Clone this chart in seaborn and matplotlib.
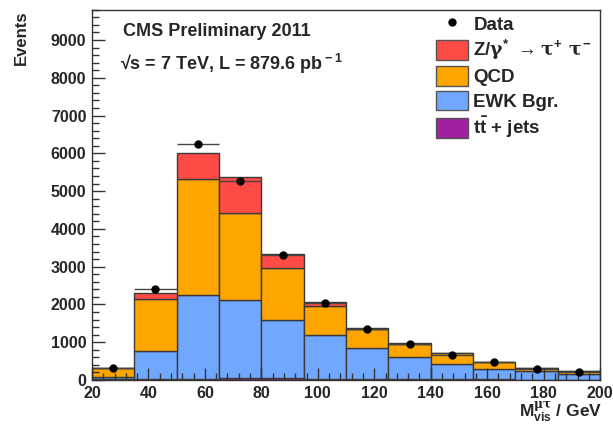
import numpy as np
import pandas as pd
import matplotlib
matplotlib.use("Agg")
import matplotlib.pyplot as plt
import seaborn as sns
from matplotlib.patches import Patch
from matplotlib.lines import Line2D
from matplotlib.ticker import MultipleLocator

# ---------------- data ----------------
bin_edges = [20, 35, 50, 65, 80, 95, 110, 125, 140, 155, 170, 185, 200]
ttbar = [15, 25, 35, 40, 40, 35, 30, 25, 20, 15, 10, 8]
ewk = [70, 745, 2215, 2080, 1560, 1155, 830, 575, 415, 270, 220, 142]
qcd = [220, 1380, 3070, 2300, 1370, 770, 490, 365, 275, 195, 80, 90]
ztt = [10, 140, 700, 950, 370, 95, 25, 10, 5, 5, 3, 2]
data = [330, 2420, 6260, 5280, 3310, 2050, 1340, 950, 665, 470, 300, 220]

labels = [r"Z/$\gamma^{*}$ $\rightarrow \tau^{+}\ \tau^{-}$", "QCD", "EWK Bgr.", r"t$\bar{\rm t}$ + jets"]
colors = ["#ff4b45", "#ffa500", "#70a8ff", "#a0209f"]

edges = [float(e) for e in bin_edges]
centers = np.array([0.5 * (a + b) for a, b in zip(edges[:-1], edges[1:])])

rows = []
for name, vals in zip(["Ztt", "QCD", "EWK", "ttbar"], [ztt, qcd, ewk, ttbar]):
    for c, v in zip(centers, vals):
        rows.append({"mass": float(c), "weight": float(v), "proc": name})
df = pd.DataFrame(rows)

# ---------------- style ----------------
sns.set_style("ticks")
plt.rcParams["font.family"] = ["Liberation Sans", "DejaVu Sans"]
plt.rcParams["font.weight"] = "bold"
plt.rcParams["mathtext.fontset"] = "custom"
plt.rcParams["mathtext.rm"] = "Liberation Sans:bold"
plt.rcParams["mathtext.bf"] = "Liberation Sans:bold"
plt.rcParams["mathtext.it"] = "DejaVu Serif"

fig = plt.figure(figsize=(6.13, 4.26), dpi=100)
ax = fig.add_axes([0.150, 0.108, 0.829, 0.869])

sns.histplot(data=df, x="mass", weights="weight", hue="proc",
             hue_order=["Ztt", "QCD", "EWK", "ttbar"],
             palette=dict(zip(["Ztt", "QCD", "EWK", "ttbar"], colors)),
             bins=edges, multiple="stack", element="bars", fill=True,
             alpha=1.0, edgecolor="#3a3a3a", linewidth=1.0,
             legend=False, ax=ax)

ax.errorbar(centers, data, xerr=7.5, yerr=np.sqrt(data), fmt="o", color="black",
            markersize=5, elinewidth=1.0, ecolor="#444444", capsize=0, zorder=5)

ax.set_xlim(20, 200)
ax.set_ylim(0, 9800)
ax.xaxis.set_major_locator(MultipleLocator(20))
ax.xaxis.set_minor_locator(MultipleLocator(4))
ax.yaxis.set_major_locator(MultipleLocator(1000))
ax.yaxis.set_minor_locator(MultipleLocator(200))
ax.tick_params(which="both", left=True, bottom=True, top=False, right=False)
ax.tick_params(which="major", direction="in", length=9, width=1, labelsize=11.5, pad=4,
               color="#333333")
ax.tick_params(which="minor", direction="in", length=5, width=1, color="#333333")
ax.tick_params(axis="x", which="major", pad=4)
for lab in ax.get_xticklabels() + ax.get_yticklabels():
    lab.set_fontweight("bold")
for s in ax.spines.values():
    s.set_linewidth(1.0)
    s.set_color("#333333")
ax.set_axisbelow(False)

ax.set_xlabel("")
ax.set_ylabel("")
fig.text(0.982, 0.002, r"M$_{\rm vis}^{\mu\tau}$ / GeV", ha="right", va="bottom",
         fontsize=12.5, fontweight="bold")
fig.text(0.022, 0.975, "Events", rotation=90, ha="left", va="top",
         fontsize=12, fontweight="bold")

ax.text(0.062, 0.965, "CMS Preliminary 2011", transform=ax.transAxes,
        fontsize=13, fontweight="bold", va="top", ha="left")
ax.text(0.055, 0.885, "\u221as = 7 TeV, L = 879.6 pb$^{\\rm -1}$", transform=ax.transAxes,
        fontsize=13, fontweight="bold", va="top", ha="left")

handles = [Line2D([], [], marker="o", color="black", linestyle="none", markersize=5)]
handles += [Patch(facecolor=c, edgecolor="#555555") for c in colors]
leg = ax.legend(handles, ["Data"] + labels, loc="upper right", bbox_to_anchor=(1.005, 1.02),
                frameon=False, fontsize=13.5, handlelength=1.7, handleheight=1.25,
                handletextpad=0.3, labelspacing=0.22, borderaxespad=0.2)
for t in leg.get_texts():
    t.set_fontweight("bold")

fig.savefig("out.png", dpi=100)
